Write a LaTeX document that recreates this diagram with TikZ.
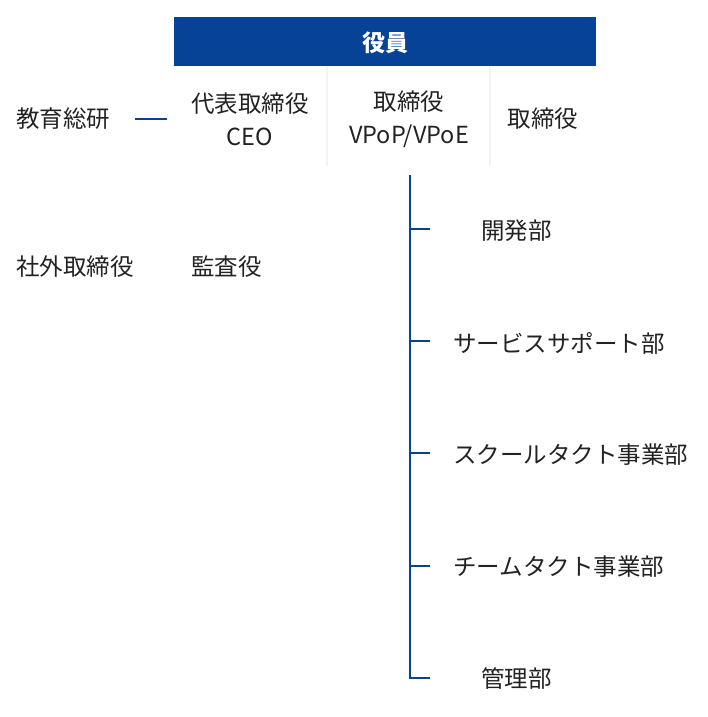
\documentclass[tikz,border=0pt]{standalone}
\usepackage{fontspec}
\setmainfont{Noto Sans CJK JP}
\definecolor{hd}{HTML}{064296}
\definecolor{tx}{HTML}{222222}
\definecolor{sep}{HTML}{F3F3F3}
\begin{document}
\begin{tikzpicture}[x=1pt,y=-1pt,
  t/.style={text=tx,font=\fontsize{23.5}{33}\selectfont,inner sep=0pt,align=center},
  ln/.style={draw=hd,line width=1.3pt}]
\useasboundingbox (0,0) rectangle (708,717);
\fill[hd] (174,17) rectangle (596,66);
\node[text=white,font=\fontsize{23}{30}\selectfont\bfseries] (h) at (385,43) {役員};
\draw[sep,line width=2pt] (327,66) -- (327,166) (490,66) -- (490,166);
\node[t] (ceo) at (250,119) {代表取締役\\CEO};
\node[t] (vp) at (409,119) {取締役\\VPoP/VPoE};
\node[t] (d) at (543,119) {取締役};
\node[t,anchor=west] (k) at (16,119) {教育総研};
\node[t,anchor=west] (s) at (16,267) {社外取締役};
\node[t,anchor=west] (a) at (191,267) {監査役};
\coordinate (l1) at (135,119); \coordinate (l2) at (167,119);
\draw[ln] (l1) -- (l2);
\coordinate (top) at (410,175);
\node[t,anchor=west] (b1) at (481,231) {開発部};
\node[t,anchor=west] (b2) at (453,343) {サービスサポート部};
\node[t,anchor=west] (b3) at (453,455) {スクールタクト事業部};
\node[t,anchor=west] (b4) at (453,567) {チームタクト事業部};
\node[t,anchor=west] (b5) at (481,679) {管理部};
\coordinate (c1) at (410,229); \coordinate (c2) at (410,341);
\coordinate (c3) at (410,453); \coordinate (c4) at (410,566);
\coordinate (c5) at (410,678);
\draw[ln] (top) -- (c5) -- ++(20,0);
\foreach \c in {c1,c2,c3,c4} \draw[ln] (\c) -- ++(20,0);
\end{tikzpicture}
\end{document}
